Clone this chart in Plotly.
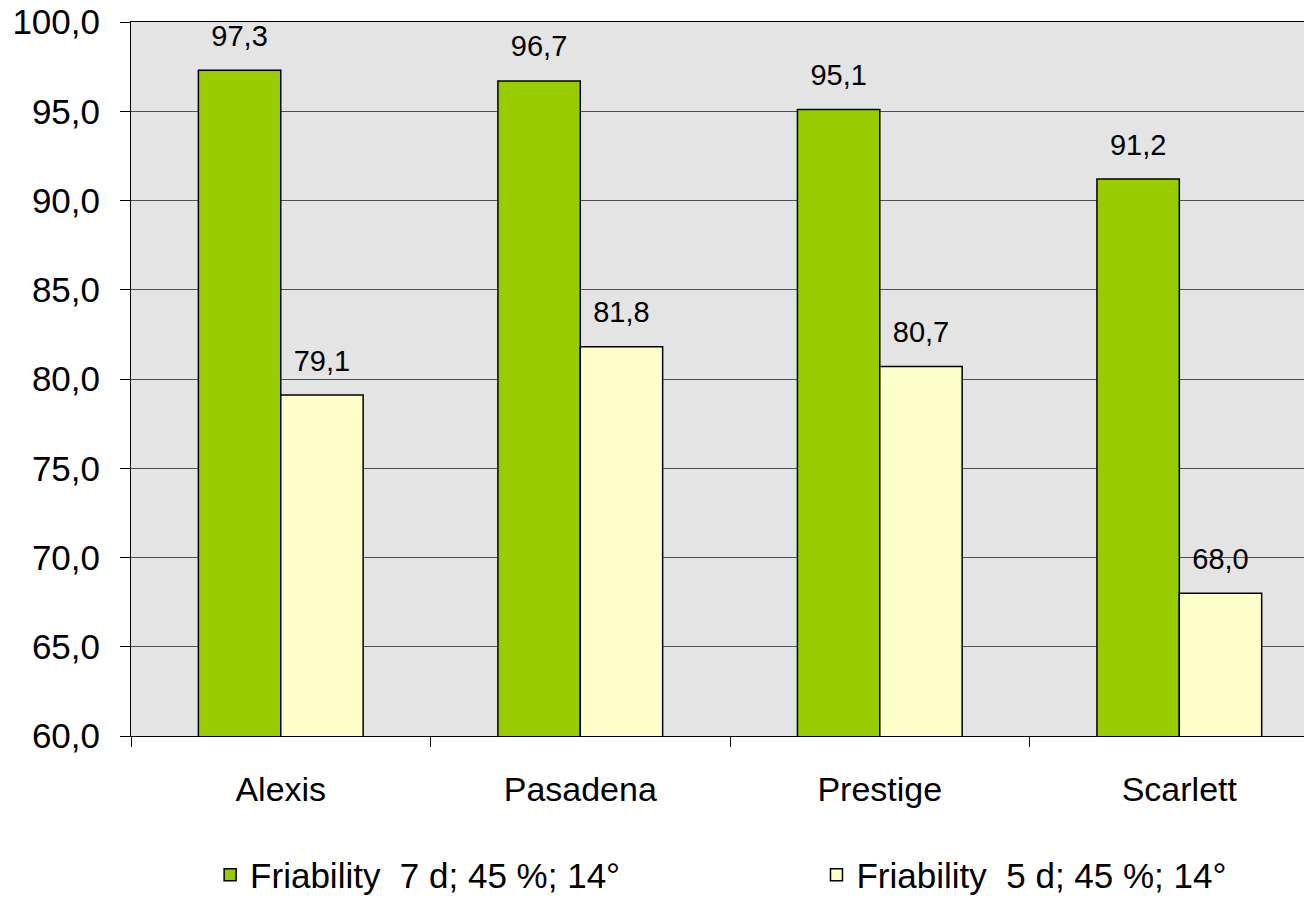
import plotly.graph_objects as go

categories = ["Alexis", "Pasadena", "Prestige", "Scarlett"]
friability_7d = [97.3, 96.7, 95.1, 91.2]
friability_5d = [79.1, 81.8, 80.7, 68.0]
series_names = ["Friability  7 d; 45 %; 14°", "Friability  5 d; 45 %; 14°"]
series_colors = ["#99CC00", "#FFFFCC"]
y_ticks = [60, 65, 70, 75, 80, 85, 90, 95, 100]

FONT = "Liberation Sans, Arial, sans-serif"

fig = go.Figure()
for name, vals, col, grp, lg in zip(series_names, [friability_7d, friability_5d], series_colors,
                                   ["a", "b"], ["legend", "legend2"]):
    fig.add_trace(go.Bar(
        x=categories, y=vals, name=name, offsetgroup=grp, legend=lg,
        marker=dict(color=col, line=dict(color="black", width=1.5)),
    ))
for name, vals, grp in zip(series_names, [friability_7d, friability_5d], ["a", "b"]):
    fig.add_trace(go.Scatter(
        x=categories, y=vals, offsetgroup=grp, mode="markers+text",
        marker=dict(size=26, opacity=0), text=[f"{v:.1f}".replace(".", ",") for v in vals],
        textposition="top center", textfont=dict(family=FONT, size=29, color="black"),
        showlegend=False, hoverinfo="skip", cliponaxis=False,
    ))

legend_common = dict(orientation="h", xref="container", yref="container", y=0.027,
                     xanchor="left", yanchor="middle", font=dict(size=35, family=FONT),
                     bgcolor="rgba(0,0,0,0)")

fig.update_layout(
    width=1304, height=891,
    margin=dict(l=123, r=0, t=14, b=163, autoexpand=False),
    paper_bgcolor="white", plot_bgcolor="#e4e4e4",
    barmode="group", bargap=0.45, bargroupgap=0,
    scattermode="group", scattergap=0.45,
    separators=",.",
    font=dict(family=FONT, color="black"),
    legend=dict(x=0.155, **legend_common),
    legend2=dict(x=0.620, **legend_common),
)
fig.update_xaxes(
    type="category", range=[-0.5, 3.443], tickson="boundaries", automargin=False,
    ticks="outside", ticklen=10, tickcolor="black", tickwidth=1,
    showline=True, linecolor="black", linewidth=1, mirror=True,
    tickfont=dict(size=34, family=FONT), ticklabelstandoff=23, showgrid=False,
)
fig.update_yaxes(
    range=[60, 100], tickvals=y_ticks, tickformat=".1f", automargin=False,
    ticklabeloverflow="allow",
    ticks="outside", ticklen=10, tickcolor="black", tickwidth=1,
    showline=True, linecolor="black", linewidth=1,
    showgrid=True, gridcolor="#505050", gridwidth=1,
    tickfont=dict(size=35, family=FONT), ticklabelstandoff=13, zeroline=False,
)
fig.write_html("out.html")
